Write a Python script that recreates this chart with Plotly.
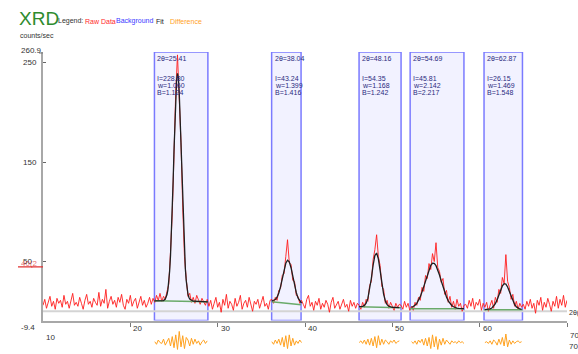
import plotly.graph_objects as go

# ---------------- data ----------------
scan_start = 10.0
scan_step = 0.2

raw_a = [6, 12, 3, 9, 15, 5, 10, 2, 13, 8, 11,
         4, 16, 7, 10, 3, 12, 18, 6, 9, 5,
         14, 8, 2, 11, 17, 7, 10, 4, 13, 9,
         6, 19, 5, 12, 8, 22, 3, 10, 15, 7,
         11, 4, 14, 9, 17, 6, 2, 12, 8, 16,
         5, 10, 13, 3, 9, 15, 6, 11, 4, 8, 14, 7]
raw_p1 = [13, 9, 16, 11, 18, 10, 15, 12, 20, 27, 60, 98, 158, 222, 258, 214,
          170, 104, 55, 33, 15, 18, 9, 14, 8, 16, 11, 7, 13, 10, 6, 12]
raw_b = [5, 11, 2, 8, 14, 4, 9, -1, 12, 6, 17, 3, 10, 7, 1, 13, 5, 9,
         16, 2, 8, 11, 4, 14, 6, 0, 10, 7, 12, 3, 9, 15, 5, 8, 2, 11]
raw_p2 = [12, 8, 14, 11, 21, 23, 36, 38, 55, 72, 49, 47, 31, 30, 16, 15, 8, 11]
raw_c = [7, 3, 12, 16, 5, 9, 1, 10, 6, 13, 2, 8, 4, 11, 7, -1,
         9, 14, 3, 6, 10, 2, 8, 12, 4, 7, 0, 11, 5, 9, 3, 8]
raw_p3 = [6, 2, 9, 4, 12, 10, 26, 30, 52, 62, 77, 55, 46, 25, 22, 8,
          11, 3, 9, 5, 1, 8, 4, 7]
raw_d = [6, 2, 10, 4, 8, 1]
raw_p4 = [5, 1, 9, 6, 14, 11, 24, 20, 36, 33, 48, 42, 58, 50, 69, 44,
          40, 29, 33, 17, 21, 9, 15, 4, 10, 2, 12, 5, 8, 0, 6]
raw_e = [7, 3, 11, 5, 13, 2, 9, 6, 12, 1, 8]
raw_p5 = [4, 9, 0, 6, 11, 3, 14, 9, 22, 18, 34, 28, 57, 30, 24, 12,
          17, 5, 10, 2, 8, 4]
raw_f = [7, 2, 10, 5, 12, 3, 8, -2, 11, 6, 14, 1, 9, 4, 13, 7,
         0, 10, 5, 15, 3, 12, 6, 16, 4, 11]
raw_counts = raw_a + raw_p1 + raw_b + raw_p2 + raw_c + raw_p3 + raw_d + raw_p4 + raw_e + raw_p5 + raw_f
two_theta = [round(scan_start + scan_step * i, 2) for i in range(len(raw_counts))]

peak_pos = [25.41, 38.04, 48.16, 54.69, 62.87]
peak_I = ["228.80", "43.24", "54.35", "45.81", "26.15"]
peak_w = ["1.060", "1.399", "1.168", "2.142", "1.469"]
peak_B = ["1.124", "1.416", "1.242", "2.217", "1.548"]
box_left = [22.76, 36.18, 46.19, 52.04, 60.5]
box_right = [28.88, 39.55, 51.0, 58.2, 64.9]
bg_left = [10.5, 9.5, 4.5, 2.5, 1.5]
bg_right = [9.5, 6.5, 3.5, 2.5, 1.5]

fit1_x = [22.76, 23.4, 23.8, 24.0, 24.1, 24.2, 24.3, 24.4, 24.5, 24.6, 24.7, 24.8, 24.9,
          25.0, 25.1, 25.2, 25.3, 25.4, 25.5, 25.6, 25.7, 25.8, 25.9, 26.0, 26.1, 26.2,
          26.3, 26.4, 26.5, 26.6, 26.7, 26.8, 27.2, 27.6, 28.88]
fit1_y = [10.5, 10.4, 10.8, 12.3, 13.9, 16.8, 21.5, 29.0, 40.2, 55.9, 76.5, 101.9, 130.8,
          161.5, 191.0, 215.7, 232.7, 239.3, 234.7, 219.9, 196.3, 167.7, 136.9, 107.2,
          81.1, 59.4, 42.8, 30.7, 22.6, 17.3, 14.2, 12.3, 10.1, 9.9, 9.5]
fit_starts = [36.2, 46.2, 52.2, 60.6]
fit2_y = [10.3, 10.7, 11.8, 14.2, 18.4, 24.8, 33.0, 41.5, 48.3, 51.4, 49.7, 43.8, 35.3,
          26.5, 18.9, 13.4, 10.0, 8.2]
fit3_y = [4.7, 4.7, 5.0, 5.9, 8.1, 12.9, 21.3, 33.2, 46.3, 56.0, 58.6, 52.8, 41.1, 28.0,
          17.3, 10.3, 6.7, 5.0, 4.2, 4.0, 3.9, 3.9, 3.8, 3.7]
fit4_y = [3.8, 4.6, 6.0, 8.0, 10.9, 14.7, 19.5, 25.1, 31.1, 37.1, 42.3, 46.2, 48.3, 48.2,
          45.9, 41.9, 36.5, 30.5, 24.5, 19.0, 14.3, 10.5, 7.8, 5.8, 4.5, 3.7, 3.2, 3.0,
          2.8, 2.7, 2.7]
fit5_y = [1.7, 1.8, 2.0, 2.4, 3.3, 5.0, 7.7, 11.6, 16.4, 21.4, 25.5, 27.7, 27.3, 24.4,
          19.9, 14.9, 10.3, 6.8, 4.4, 3.0, 2.3, 1.9]

diff_starts = [22.8, 36.2, 46.2, 52.2, 60.6]
diff1 = [1, -2, 3, 0, -1, 4, -3, 2, 5, -4, 7, -6, 9, -8, 13, -5, 8, -7, 6, 3, -4, 5,
         -2, 4, -1, 2, -3, 1, 3, -1, 2]
diff2 = [1, -2, 3, -1, 4, -3, 6, -5, 8, -7, 9, -4, 5, -3, 2, -1, 3, 0]
diff3 = [0, 2, -1, 3, -2, 4, -3, 5, -4, 7, -6, 8, -3, 4, -2, 3, 1, -2, 2, 0, 3, -1, 1, 2]
diff4 = [1, -1, 2, -2, 3, 0, 4, -3, 5, -4, 6, -7, 9, -5, 7, -8, 4, -3, 5, -2, 3, 1, -2,
         2, 0, 1, -1, 2, 0, 1, -1]
diff5 = [0, 1, -1, 2, -2, 3, 1, -3, 4, -2, 6, -4, 10, -5, 3, -2, 2, -1, 1, 2, 0, 1]

x_ticks = [20, 30, 40, 50, 60, 70]
y_ticks = [50, 150, 250]
y_min, y_max = -9.4, 260.9
x_min, x_max = 10, 70

legend_items = ["Legend:", "Raw Data", "Background", "Fit", "Difference"]
legend_colors = ["#333", "#ff2a2a", "#3a3aff", "#222", "#ffa21f"]

# ---------------- layout helpers ----------------
W_FIG, H_FIG = 578, 354
L, R, T, B = 43, 11, 52, 2
PW, PH = W_FIG - L - R, H_FIG - T - B
FONT = "Liberation Sans Narrow, Arial Narrow, Liberation Sans, sans-serif"


def xp(px):
    return (px - L) / PW


def yp(py):
    return (T + PH - py) / PH


def grid(start, n):
    return [round(start + scan_step * i, 3) for i in range(n)]


fig = go.Figure()

# raw data
fig.add_trace(go.Scatter(x=two_theta, y=raw_counts, mode="lines",
                         line=dict(color="rgba(255,30,30,0.9)", width=1), hoverinfo="skip"))

# background
bx, by = [], []
for xl, xr, yl, yr in zip(box_left, box_right, bg_left, bg_right):
    bx += [xl, xr, None]
    by += [yl, yr, None]
fig.add_trace(go.Scatter(x=bx, y=by, mode="lines", line=dict(color="#6aaa6a", width=1.5),
                         hoverinfo="skip"))

# fit
fx = list(fit1_x) + [None]
fy = list(fit1_y) + [None]
for st, ys in zip(fit_starts, [fit2_y, fit3_y, fit4_y, fit5_y]):
    fx += grid(st, len(ys)) + [None]
    fy += list(ys) + [None]
fig.add_trace(go.Scatter(x=fx, y=fy, mode="lines", line=dict(color="#202020", width=1.3),
                         hoverinfo="skip"))

# difference (lower strip)
dx, dy = [], []
for st, ys in zip(diff_starts, [diff1, diff2, diff3, diff4, diff5]):
    dx += grid(st, len(ys)) + [None]
    dy += list(ys) + [None]
fig.add_trace(go.Scatter(x=dx, y=dy, mode="lines", yaxis="y2",
                         line=dict(color="#ffa21f", width=1), hoverinfo="skip"))

shapes = []
for xl, xr in zip(box_left, box_right):
    shapes.append(dict(type="rect", xref="x", yref="y", x0=xl, x1=xr, y0=y_min, y1=y_max,
                       line=dict(color="rgba(100,100,255,0.85)", width=1.5),
                       fillcolor="#f2f2ff", layer="below"))
shapes.append(dict(type="line", xref="x", yref="y", x0=x_min, x1=x_max, y0=0, y1=0,
                   line=dict(color="#d4d4d4", width=2), layer="below"))
shapes.append(dict(type="line", xref="paper", yref="y", x0=xp(18), x1=0, y0=44.6, y1=44.6,
                   line=dict(color="#e03030", width=1.2)))
shapes.append(dict(type="line", xref="paper", yref="y", x0=xp(39), x1=0, y0=y_max - 1, y1=y_max - 1,
                   line=dict(color="#777", width=1)))

ann = []


def add(text, px, py, size, color, anchor="left"):
    ann.append(dict(text=text, x=xp(px), y=yp(py), xref="paper", yref="paper",
                    xanchor=anchor, yanchor="middle", showarrow=False,
                    font=dict(family=FONT, size=size, color=color)))


add("XRD", 17, 18.5, 19, "#2e8b2e")
add("counts/sec", 18, 35, 7, "#333")
for txt, col, cx in zip(legend_items, legend_colors, [70, 100, 134.5, 160, 186]):
    add(txt, cx, 21, 7, col, anchor="center")
add("260.9", 19, 50, 8, "#333")
for v in y_ticks:
    py = T + (y_max - v) / (y_max - y_min) * (320.6 - T)
    add(str(v), 21, py, 8, "#333")
add("40(2", 19, 263, 8, "rgba(220,40,40,0.7)")
add("-9.4", 19, 327, 8, "#333")
add("10", 44, 337, 8, "#333")
for v in x_ticks:
    px = L + (v - x_min) / (x_max - x_min) * PW
    add(str(v), px + 1, 328 if v < 70 else 335, 8, "#333")
add("70", 567, 346, 8, "#333")
add("2θ(", 567, 313, 7, "#333")

for i in range(len(peak_pos)):
    x0 = box_left[i]
    for txt, py in [("2θ=%.2f" % peak_pos[i], 58), ("I=" + peak_I[i], 79),
                    ("w=" + peak_w[i], 85.5), ("B=" + peak_B[i], 92)]:
        ann.append(dict(text=txt, x=x0, y=yp(py), xref="x", yref="paper", xanchor="left",
                        yanchor="middle", xshift=1, showarrow=False,
                        font=dict(family=FONT, size=7, color="#2b2b80")))

fig.update_layout(
    width=W_FIG, height=H_FIG,
    margin=dict(l=L, r=R, t=T, b=B),
    paper_bgcolor="white", plot_bgcolor="white",
    showlegend=False,
    shapes=shapes, annotations=ann,
    xaxis=dict(range=[x_min, x_max], anchor="y", showgrid=False, zeroline=False,
               showline=True, linecolor="#a8a8a8", linewidth=2,
               ticks="outside", tickvals=x_ticks, ticklen=4, tickcolor="#777",
               showticklabels=False),
    yaxis=dict(range=[y_min, y_max], domain=[yp(320.6), 1], showgrid=False, zeroline=False,
               showline=True, linecolor="#a8a8a8", linewidth=2,
               ticks="inside", tickvals=y_ticks, ticklen=3, tickcolor="#666",
               showticklabels=False),
    yaxis2=dict(range=[-11, 17], domain=[0, 0.08], anchor="x", showgrid=False,
                zeroline=False, showline=False, showticklabels=False),
)

fig.write_html("out.html")
